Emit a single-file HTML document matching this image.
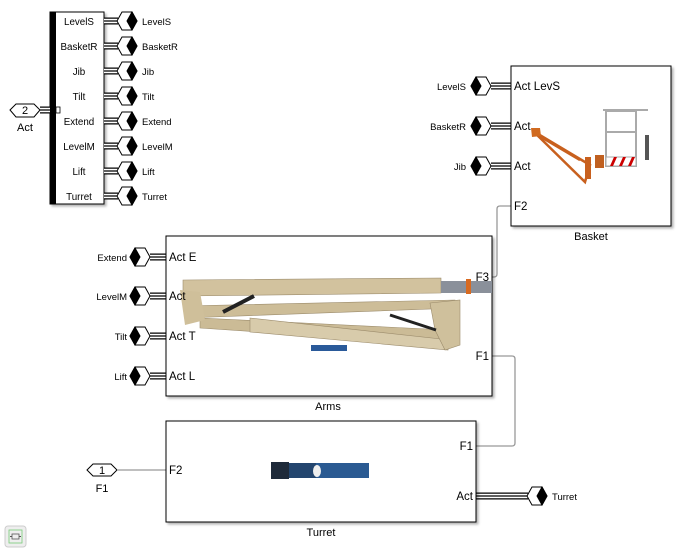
<!DOCTYPE html>
<html><head><meta charset="utf-8"><style>
html,body{margin:0;padding:0;background:#fff;width:682px;height:551px;overflow:hidden}
svg{display:block;font-family:"Liberation Sans",Arial,sans-serif}
</style></head><body>
<svg width="682" height="551" viewBox="0 0 682 551" xmlns="http://www.w3.org/2000/svg">
<defs>
<filter id="sh" x="-5%" y="-5%" width="115%" height="115%"><feDropShadow dx="2" dy="2" stdDeviation="1.2" flood-color="#000" flood-opacity="0.3"/></filter>
</defs>
<style>
.b1{stroke:#000;stroke-width:7}.b2{stroke:#fff;stroke-width:4.6}.b3{stroke:#000;stroke-width:1.2}
</style>

<!-- bus selector -->
<g filter="url(#sh)"><rect x="50" y="12" width="54" height="192" fill="#fff" stroke="#000" stroke-width="1"/></g>
<rect x="50" y="12" width="6" height="192" fill="#000"/>
<g font-size="9.8" text-anchor="middle">
<text x="79" y="25">LevelS</text><text x="79" y="50">BasketR</text><text x="79" y="75">Jib</text><text x="79" y="100">Tilt</text>
<text x="79" y="125">Extend</text><text x="79" y="150">LevelM</text><text x="79" y="175">Lift</text><text x="79" y="200">Turret</text>
</g>

<g fill="none">
<path d="M104 21H118M104 46H118M104 71H118M104 96H118M104 121H118M104 146H118M104 171H118M104 196H118 M40 110H50 M150 257H166 M150 296H166 M150 336H166 M150 376H166 M491 86H511 M491 126H511 M491 166H511 M476 496H528" class="b1"/>
<path d="M104 21H118M104 46H118M104 71H118M104 96H118M104 121H118M104 146H118M104 171H118M104 196H118 M40 110H50 M150 257H166 M150 296H166 M150 336H166 M150 376H166 M491 86H511 M491 126H511 M491 166H511 M476 496H528" class="b2"/>
<path d="M104 21H118M104 46H118M104 71H118M104 96H118M104 121H118M104 146H118M104 171H118M104 196H118 M40 110H50 M150 257H166 M150 296H166 M150 336H166 M150 376H166 M491 86H511 M491 126H511 M491 166H511 M476 496H528" class="b3"/>
</g>
<rect x="56" y="107" width="4" height="6" fill="#fff" stroke="#000" stroke-width="0.8"/>

<g stroke="#000" stroke-width="1">
<g transform="translate(0,21)"><polygon points="117,0 122,-9 132,-9 137,0 132,9 122,9" fill="#fff"/><polygon points="127,0 132,-9 137,0 132,9" fill="#000"/></g>
<g transform="translate(0,46)"><polygon points="117,0 122,-9 132,-9 137,0 132,9 122,9" fill="#fff"/><polygon points="127,0 132,-9 137,0 132,9" fill="#000"/></g>
<g transform="translate(0,71)"><polygon points="117,0 122,-9 132,-9 137,0 132,9 122,9" fill="#fff"/><polygon points="127,0 132,-9 137,0 132,9" fill="#000"/></g>
<g transform="translate(0,96)"><polygon points="117,0 122,-9 132,-9 137,0 132,9 122,9" fill="#fff"/><polygon points="127,0 132,-9 137,0 132,9" fill="#000"/></g>
<g transform="translate(0,121)"><polygon points="117,0 122,-9 132,-9 137,0 132,9 122,9" fill="#fff"/><polygon points="127,0 132,-9 137,0 132,9" fill="#000"/></g>
<g transform="translate(0,146)"><polygon points="117,0 122,-9 132,-9 137,0 132,9 122,9" fill="#fff"/><polygon points="127,0 132,-9 137,0 132,9" fill="#000"/></g>
<g transform="translate(0,171)"><polygon points="117,0 122,-9 132,-9 137,0 132,9 122,9" fill="#fff"/><polygon points="127,0 132,-9 137,0 132,9" fill="#000"/></g>
<g transform="translate(0,196)"><polygon points="117,0 122,-9 132,-9 137,0 132,9 122,9" fill="#fff"/><polygon points="127,0 132,-9 137,0 132,9" fill="#000"/></g>
<g transform="translate(410,496)"><polygon points="117,0 122,-9 132,-9 137,0 132,9 122,9" fill="#fff"/><polygon points="127,0 132,-9 137,0 132,9" fill="#000"/></g>
<g transform="translate(471,86)"><polygon points="0,0 5,-9 15,-9 20,0 15,9 5,9" fill="#fff"/><polygon points="0,0 5,-9 10,0 5,9" fill="#000"/></g>
<g transform="translate(471,126)"><polygon points="0,0 5,-9 15,-9 20,0 15,9 5,9" fill="#fff"/><polygon points="0,0 5,-9 10,0 5,9" fill="#000"/></g>
<g transform="translate(471,166)"><polygon points="0,0 5,-9 15,-9 20,0 15,9 5,9" fill="#fff"/><polygon points="0,0 5,-9 10,0 5,9" fill="#000"/></g>
<g transform="translate(130,257)"><polygon points="0,0 5,-9 15,-9 20,0 15,9 5,9" fill="#fff"/><polygon points="0,0 5,-9 10,0 5,9" fill="#000"/></g>
<g transform="translate(130,296)"><polygon points="0,0 5,-9 15,-9 20,0 15,9 5,9" fill="#fff"/><polygon points="0,0 5,-9 10,0 5,9" fill="#000"/></g>
<g transform="translate(130,336)"><polygon points="0,0 5,-9 15,-9 20,0 15,9 5,9" fill="#fff"/><polygon points="0,0 5,-9 10,0 5,9" fill="#000"/></g>
<g transform="translate(130,376)"><polygon points="0,0 5,-9 15,-9 20,0 15,9 5,9" fill="#fff"/><polygon points="0,0 5,-9 10,0 5,9" fill="#000"/></g>
<polygon points="10,110 16,104 34,104 40,110 34,117 16,117" fill="#fff"/>
<polygon points="87,470 93,464 111,464 117,470 111,476 93,476" fill="#fff"/>
</g>
<text x="25" y="114" font-size="11" text-anchor="middle">2</text>
<text x="25" y="131" font-size="11" text-anchor="middle">Act</text>
<text x="102" y="474" font-size="11" text-anchor="middle">1</text>
<text x="102" y="492" font-size="11" text-anchor="middle">F1</text>

<g font-size="9.5">
<text x="142" y="25">LevelS</text><text x="142" y="50">BasketR</text><text x="142" y="75">Jib</text><text x="142" y="100">Tilt</text>
<text x="142" y="125">Extend</text><text x="142" y="150">LevelM</text><text x="142" y="175">Lift</text><text x="142" y="200">Turret</text>
<text x="552" y="500">Turret</text>
</g>
<g font-size="9.5" text-anchor="end">
<text x="466" y="90">LevelS</text><text x="466" y="130">BasketR</text><text x="466" y="170">Jib</text>
<text x="127" y="261">Extend</text><text x="127" y="300">LevelM</text><text x="127" y="340">Tilt</text><text x="127" y="380">Lift</text>
</g>

<g fill="none" stroke="#999" stroke-width="1.3">
<path d="M492 277H494Q497 277 497 274V209Q497 206 500 206H511"/>
<path d="M492 356H512Q515 356 515 359V443Q515 446 512 446H476"/>
<path d="M117 470H166"/>
</g>

<!-- Basket -->
<g filter="url(#sh)"><rect x="511" y="66" width="160" height="160" fill="#fff" stroke="#000"/></g>
<g font-size="11.5"><text x="514" y="90">Act LevS</text><text x="514" y="130">Act</text><text x="514" y="170">Act</text><text x="514" y="210">F2</text></g>
<text x="591" y="240" font-size="11" text-anchor="middle">Basket</text>
<g stroke="#c8601e" stroke-width="2.5" fill="none">
<path d="M533 131L590 165L585 182Z"/><path d="M536 134L580 160"/>
</g>
<polygon points="531,128 540,128 541,136 532,137" fill="#d06a20"/>
<rect x="585" y="157" width="6" height="22" fill="#c8601e"/>
<rect x="595" y="155" width="9" height="13" fill="#c06020"/>
<g stroke="#aaa" stroke-width="2" fill="none"><rect x="606" y="111" width="30" height="55"/><line x1="606" y1="132" x2="636" y2="132"/><line x1="603" y1="110" x2="648" y2="110"/></g>
<rect x="606" y="157" width="30" height="9" fill="#fff" stroke="#aaa"/>
<path d="M610 166l4-9h3l-4 9zM619 166l4-9h3l-4 9zM628 166l4-9h3l-4 9z" fill="#c00"/>
<rect x="645" y="135" width="4" height="25" fill="#555"/>

<!-- Arms -->
<g filter="url(#sh)"><rect x="166" y="236" width="326" height="160" fill="#fff" stroke="#000"/></g>
<polygon points="183,280 441,278 441,293 183,296" fill="#d2c29e" stroke="#9c8c6c" stroke-width="0.6"/>
<polygon points="183,306 455,300 458,308 185,318" fill="#cdbd98" stroke="#9c8c6c" stroke-width="0.6"/>
<polygon points="200,318 448,330 455,345 200,328" fill="#cbbb96" stroke="#9c8c6c" stroke-width="0.6"/>
<polygon points="250,318 450,340 448,350 250,332" fill="#d8cbab" stroke="#9c8c6c" stroke-width="0.6"/>
<polygon points="430,303 460,300 460,345 445,350 435,330" fill="#cfc09c" stroke="#9c8c6c" stroke-width="0.6"/>
<polygon points="180,290 200,292 205,320 185,325" fill="#cfbf9a"/>
<line x1="223" y1="312" x2="254" y2="296" stroke="#222" stroke-width="4"/>
<line x1="390" y1="315" x2="436" y2="330" stroke="#222" stroke-width="3"/>
<rect x="441" y="281" width="25" height="12" fill="#8a909a"/>
<rect x="466" y="279" width="5" height="15" fill="#d86a20"/>
<rect x="471" y="281" width="21" height="12" fill="#8a909a"/>
<rect x="311" y="345" width="36" height="6" fill="#2a5a9a"/>
<g font-size="11.5"><text x="169" y="261">Act E</text><text x="169" y="300">Act</text><text x="169" y="340">Act T</text><text x="169" y="380">Act L</text>
<text x="489" y="281" text-anchor="end">F3</text><text x="489" y="360" text-anchor="end">F1</text></g>
<text x="328" y="410" font-size="11" text-anchor="middle">Arms</text>

<!-- Turret -->
<g filter="url(#sh)"><rect x="166" y="421" width="310" height="101" fill="#fff" stroke="#000"/></g>
<rect x="276" y="463" width="93" height="15" fill="#2a5a92"/>
<rect x="271" y="462" width="18" height="17" fill="#1e2a3a"/>
<rect x="289" y="463" width="27" height="15" fill="#23456e"/>
<ellipse cx="317" cy="471" rx="4" ry="6" fill="#eee"/>
<g font-size="11.5"><text x="169" y="474">F2</text><text x="473" y="450" text-anchor="end">F1</text><text x="473" y="500" text-anchor="end">Act</text></g>
<text x="321" y="536" font-size="11" text-anchor="middle">Turret</text>

<rect x="5" y="526" width="21" height="21" rx="3" fill="#eee" stroke="#ccc"/>
<rect x="9" y="530" width="13" height="13" fill="none" stroke="#7c7" stroke-width="0.8"/>
<path d="M10 536.5h2M19 536.5h2" stroke="#555"/><rect x="12" y="534" width="7" height="5" fill="none" stroke="#555" stroke-width="0.8"/>
</svg>
</body></html>
